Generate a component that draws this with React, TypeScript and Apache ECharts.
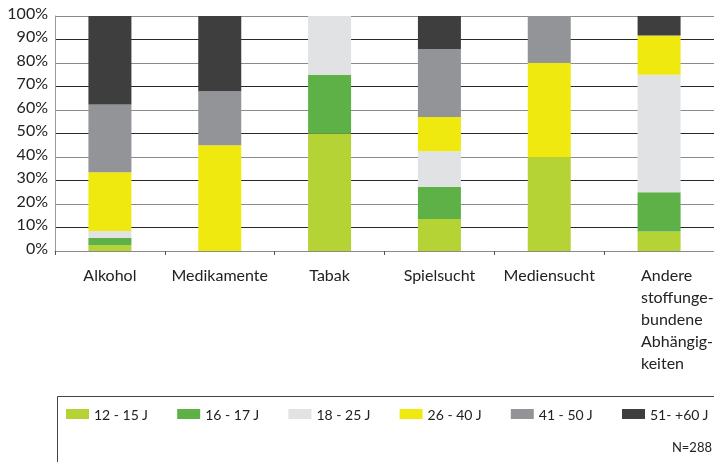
import React, { useEffect, useRef } from "react";
import * as echarts from "echarts";

const categories = [
  "Alkohol",
  "Medikamente",
  "Tabak",
  "Spielsucht",
  "Mediensucht",
  "Andere\nstoffunge-\nbundene\nAbhängig-\nkeiten",
];
const ageGroups = ["12 - 15 J", "16 - 17 J", "18 - 25 J", "26 - 40 J", "41 - 50 J", "51- +60 J"];
const s1215 = [2.5, 0, 50, 13.6, 40, 8.3];
const s1617 = [3, 0, 25, 13.6, 0, 16.7];
const s1825 = [3, 0, 25, 15.2, 0, 50];
const s2640 = [25, 45, 0, 14.6, 40, 16.7];
const s4150 = [29, 23, 0, 29, 20, 0];
const s5160 = [37.5, 32, 0, 14, 0, 8.3];
const seriesValues = [s1215, s1617, s1825, s2640, s4150, s5160];
const colors = ["#b5d334", "#5db146", "#e1e2e3", "#f0e90f", "#939497", "#3e3e3e"];
const noteText = "N=288";

const FONT = "Lato, 'DejaVu Sans', sans-serif";

export default function App() {
  const ref = useRef<HTMLDivElement>(null);
  useEffect(() => {
    if (!ref.current) return;
    const chart = echarts.init(ref.current, null, { renderer: "svg" });
    const lastIdx = categories.length - 1;
    chart.setOption({
      animation: false,
      textStyle: { fontFamily: FONT },
      grid: { left: 55, top: 16, bottom: 211, width: 666, containLabel: false },
      xAxis: {
        type: "category",
        data: categories,
        axisLine: { lineStyle: { color: "#8a8a8a", width: 1 } },
        axisTick: { show: true, length: 4, lineStyle: { color: "#555" } },
        axisLabel: {
          color: "#222",
          fontSize: 16,
          fontFamily: FONT,
          margin: 15,
          interval: 0,
          formatter: (v: string, i: number) => (i === lastIdx ? "" : v),
        },
      },
      yAxis: {
        type: "value",
        min: 0,
        max: 100,
        interval: 10,
        axisLine: { show: true, lineStyle: { color: "#9a9a9a" } },
        axisTick: { show: false },
        axisLabel: {
          color: "#222",
          fontSize: 16,
          fontFamily: FONT,
          margin: 7,
          verticalAlign: "bottom",
          lineHeight: 8,
          formatter: "{value}%",
        },
        splitLine: {
          lineStyle: { color: ["#8a8a8a", "#2a2a2a"], width: 1 },
        },
      },
      legend: ageGroups.map((name, i) => ({
        data: [name],
        left: 61 + i * 111.2,
        top: 402,
        padding: 5,
        itemWidth: 23,
        itemHeight: 10,
        icon: "rect",
        textStyle: { color: "#222", fontSize: 14, fontFamily: FONT },
      })),
      graphic: [
        {
          type: "rect",
          shape: { x: 57.5, y: 396.5, width: 700, height: 120 },
          style: { fill: "none", stroke: "#444", lineWidth: 1 },
          silent: true,
        },
        {
          type: "text",
          x: 712,
          y: 447,
          style: {
            text: noteText,
            fill: "#222",
            font: `13px ${FONT}`,
            textAlign: "right",
            textVerticalAlign: "middle",
          },
        },
        {
          type: "text",
          x: 641,
          y: 264,
          style: {
            text: categories[lastIdx],
            fill: "#222",
            font: `16px ${FONT}`,
            lineHeight: 21.8,
            textAlign: "left",
            textVerticalAlign: "top",
          },
        },
      ],
      series: ageGroups.map((name, i) => ({
        name,
        type: "bar",
        stack: "total",
        barWidth: 43,
        data: seriesValues[i],
        itemStyle: { color: colors[i] },
      })),
    });
    return () => chart.dispose();
  }, []);
  return <div ref={ref} style={{ position: "fixed", left: 0, top: 0, width: 714, height: 462 }} />;
}
